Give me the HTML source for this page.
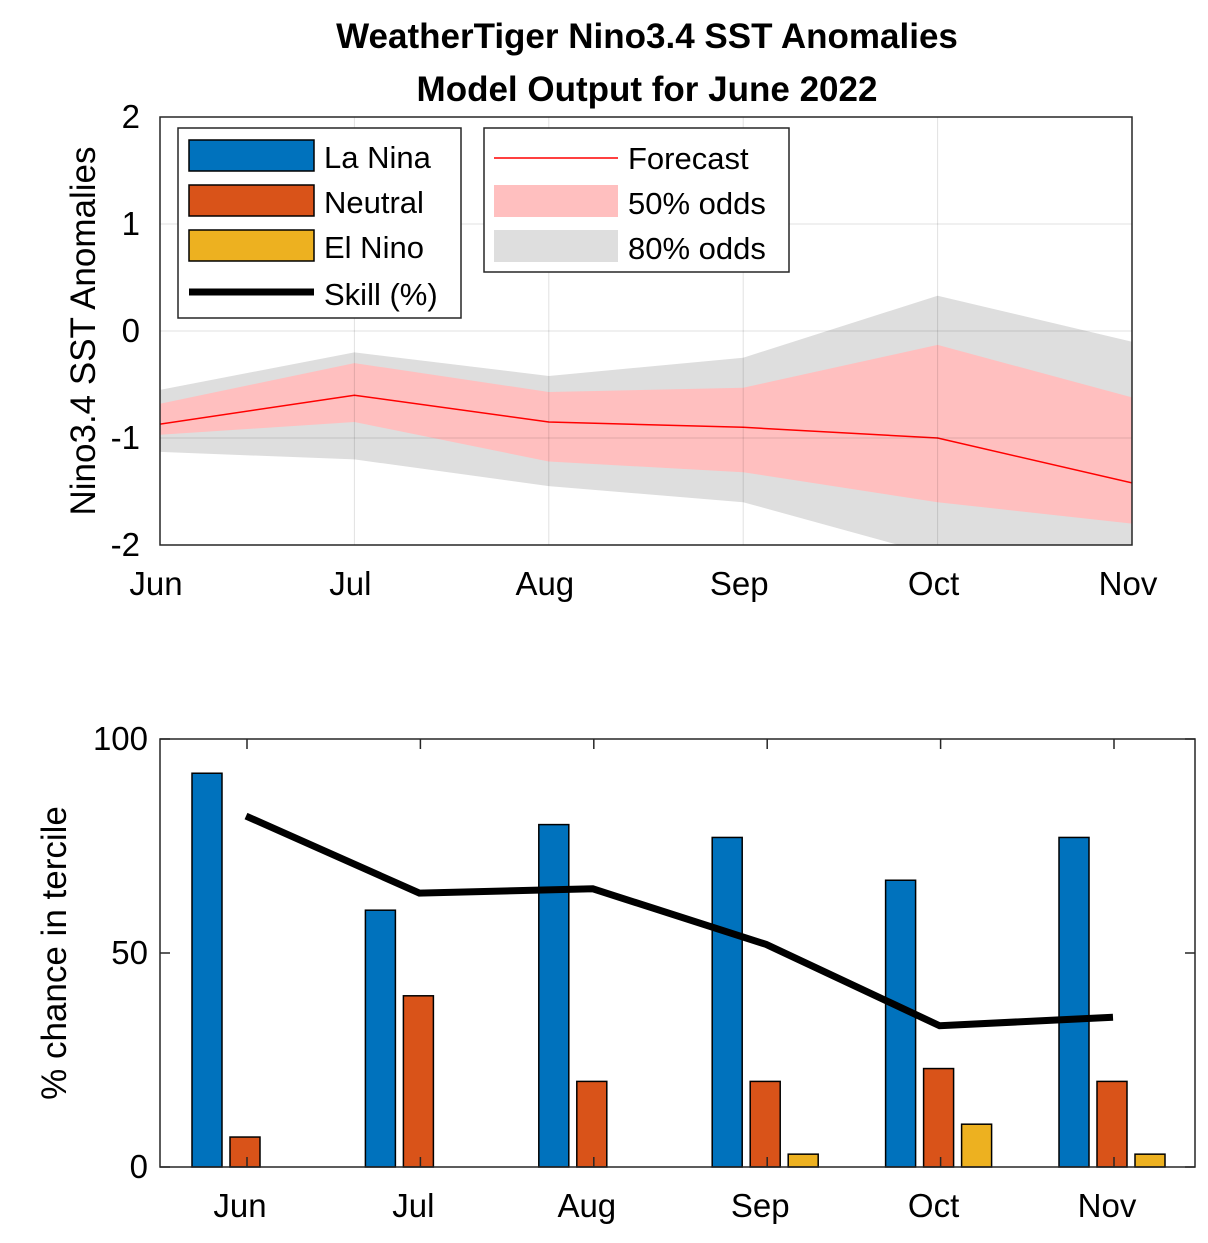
<!DOCTYPE html>
<html><head><meta charset="utf-8"><style>body{margin:0;background:#fff}svg{font-family:"Liberation Sans",Arial,sans-serif}</style></head>
<body>
<svg width="1208" height="1238" viewBox="0 0 1208 1238">
<text x="647" y="48" text-anchor="middle" font-size="35" font-weight="bold">WeatherTiger Nino3.4 SST Anomalies</text>
<text x="647" y="101" text-anchor="middle" font-size="35" font-weight="bold">Model Output for June 2022</text>
<g id="top"></g>
<g id="bot"></g>
</svg>
<script>
const months=["Jun","Jul","Aug","Sep","Oct","Nov"];
const forecast=[-0.87,-0.6,-0.85,-0.9,-1.0,-1.42];
const up50=[-0.68,-0.3,-0.57,-0.53,-0.13,-0.62];
const lo50=[-0.97,-0.85,-1.22,-1.32,-1.6,-1.8];
const up80=[-0.55,-0.2,-0.42,-0.25,0.33,-0.1];
const lo80=[-1.13,-1.2,-1.45,-1.6,-2.1,-2.05];
const yTicksTop=[2,1,0,-1,-2];
const laNina=[92,60,80,77,67,77];
const neutral=[7,40,20,20,23,20];
const elNino=[0,0,0,3,10,3];
const skill=[82,64,65,52,33,35];
const yTicksBot=[0,50,100];
const NS="http://www.w3.org/2000/svg";
function mk(p,t,a,txt){const e=document.createElementNS(NS,t);for(const k in a)e.setAttribute(k,a[k]);if(txt!==undefined)e.textContent=txt;p.appendChild(e);return e;}
const T=document.getElementById('top');
const L1=160,R1=1132,T1=117,B1=545;
const x1=i=>L1+i*(R1-L1)/5, y1=v=>T1+(2-v)*(B1-T1)/4;
mk(T,'defs',{}).innerHTML='<clipPath id="c1"><rect x="160" y="117" width="972" height="428"/></clipPath>';
const gc=mk(T,'g',{'clip-path':'url(#c1)'});
function band(u,l,fill,name){let d=u.map((v,i)=>(i?'L':'M')+x1(i)+','+y1(v)).join('');d+=l.map((v,i)=>i).reverse().map(i=>'L'+x1(i)+','+y1(l[i])).join('')+'Z';
const p=mk(gc,'path',{d:d,fill:fill});}
band(up80,lo80,'#dedede','band-80');band(up50,lo50,'#ffbfbf','band-50');
months.forEach((m,i)=>{mk(T,'line',{x1:x1(i),x2:x1(i),y1:T1,y2:B1,stroke:'#000','stroke-opacity':0.12});
const t=mk(T,'text',{x:x1(i)-4,y:595,'text-anchor':'middle','font-size':33},m);});
yTicksTop.forEach(v=>{mk(T,'line',{x1:L1,x2:R1,y1:y1(v),y2:y1(v),stroke:'#000','stroke-opacity':0.12});
const t=mk(T,'text',{x:140,y:y1(v)+11,'text-anchor':'end','font-size':33},String(v));});
const fl=mk(gc,'polyline',{points:forecast.map((v,i)=>x1(i)+','+y1(v)).join(' '),fill:'none',stroke:'#ff0000','stroke-width':1.5});

mk(T,'rect',{x:L1,y:T1,width:R1-L1,height:B1-T1,fill:'none',stroke:'#262626','stroke-width':1.5});
const yl=mk(T,'text',{transform:'translate(95,331) rotate(-90)','text-anchor':'middle','font-size':35},'Nino3.4 SST Anomalies');

const lg1=mk(T,'g',{});
mk(lg1,'rect',{x:178,y:128,width:283,height:190,fill:'#fff',stroke:'#262626','stroke-width':1.5});
[['#0072bd','La Nina'],['#d95319','Neutral'],['#edb120','El Nino']].forEach((e,k)=>{mk(lg1,'rect',{x:189,y:140+k*45,width:125,height:31,fill:e[0],stroke:'#000','stroke-width':1.5});mk(lg1,'text',{x:324,y:168+k*45,'font-size':31},e[1]);});
mk(lg1,'line',{x1:189,x2:314,y1:292,y2:292,stroke:'#000','stroke-width':7});mk(lg1,'text',{x:324,y:305,'font-size':31},'Skill (%)');
const lg2=mk(T,'g',{});
mk(lg2,'rect',{x:484,y:128,width:305,height:144,fill:'#fff',stroke:'#262626','stroke-width':1.5});
mk(lg2,'line',{x1:494,x2:618,y1:158,y2:158,stroke:'#ff0000','stroke-width':1.5});mk(lg2,'text',{x:628,y:169,'font-size':31},'Forecast');
mk(lg2,'rect',{x:494,y:185,width:124,height:32,fill:'#ffbfbf'});mk(lg2,'text',{x:628,y:214,'font-size':31},'50% odds');
mk(lg2,'rect',{x:494,y:230,width:124,height:32,fill:'#dedede'});mk(lg2,'text',{x:628,y:259,'font-size':31},'80% odds');
const B=document.getElementById('bot');
const L2=160,R2=1195,T2=739,B2=1167;
const step=173.4;
const xg=i=>240+step*i, y2=v=>B2-v*(B2-T2)/100;
const series=[[laNina,'#0072bd',-33,'bar-la-nina'],[neutral,'#d95319',5,'bar-neutral'],[elNino,'#edb120',43,'bar-el-nino']];
months.forEach((m,i)=>{series.forEach(s=>{const v=s[0][i];if(v<=0)return;
const r=mk(B,'rect',{x:xg(i)+s[2]-15,y:y2(v),width:30,height:B2-y2(v),fill:s[1],stroke:'#000','stroke-width':1.5});
});
mk(B,'line',{x1:xg(i)+7,x2:xg(i)+7,y1:T2,y2:T2+10,stroke:'#262626','stroke-width':1.5});
mk(B,'line',{x1:xg(i)+7,x2:xg(i)+7,y1:B2,y2:B2-10,stroke:'#262626','stroke-width':1.5});
const t=mk(B,'text',{x:xg(i),y:1217,'text-anchor':'middle','font-size':33},m);});
yTicksBot.forEach(v=>{mk(B,'line',{x1:L2,x2:L2+10,y1:y2(v),y2:y2(v),stroke:'#262626','stroke-width':1.5});mk(B,'line',{x1:R2,x2:R2-10,y1:y2(v),y2:y2(v),stroke:'#262626','stroke-width':1.5});
const t=mk(B,'text',{x:148,y:y2(v)+11,'text-anchor':'end','font-size':33},String(v));});
const sk=mk(B,'polyline',{points:skill.map((v,i)=>(xg(i)+6)+','+y2(v)).join(' '),fill:'none',stroke:'#000','stroke-width':7});

mk(B,'rect',{x:L2,y:T2,width:R2-L2,height:B2-T2,fill:'none',stroke:'#262626','stroke-width':1.5});
const yl2=mk(B,'text',{transform:'translate(66,953) rotate(-90)','text-anchor':'middle','font-size':35},'% chance in tercile');

</script>
</body></html>
